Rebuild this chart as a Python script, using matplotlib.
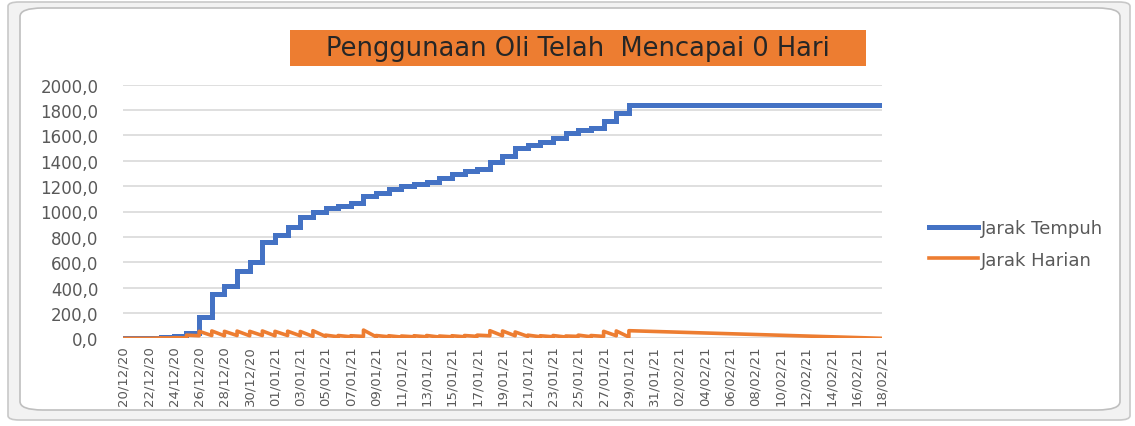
import matplotlib.pyplot as plt
import matplotlib.dates as mdates
from matplotlib.patches import FancyBboxPatch, Rectangle
import numpy as np
from datetime import date, timedelta

BIRU = "#4472C4"
ORANYE = "#ED7D31"
ABU = "#595959"

tanggal_awal = date(2020, 12, 20)
tanggal_akhir = date(2021, 2, 18)

# jarak tempuh kumulatif per hari, mulai 20/12/20 s/d 29/01/21
jarak_tempuh = [0, 0, 0, 10, 15, 45, 170, 353, 413, 528, 601, 763, 818, 876,
                954, 994, 1025, 1046, 1067, 1119, 1143, 1175, 1198, 1215, 1230,
                1263, 1294, 1320, 1339, 1391, 1438, 1504, 1525, 1548, 1582,
                1616, 1640, 1661, 1713, 1778, 1836]
jarak_tempuh_akhir = 1836

# jarak harian: catatan pertama & terakhir di tiap tanggal
harian_awal = [0, 0, 0, 2, 3, 3, 20, 22, 20, 22, 20, 22, 20, 22, 20, 15,
               15, 12, 12, 15, 12, 12, 10, 12, 12, 10, 12, 12, 15, 20, 20,
               20, 15, 12, 12, 10, 15, 12, 15, 20, 10]
harian_akhir = [0, 0, 0, 3, 5, 25, 55, 58, 55, 57, 55, 58, 55, 56, 54, 60,
                25, 22, 20, 65, 22, 20, 18, 20, 22, 18, 20, 22, 25, 60, 58,
                50, 25, 20, 22, 18, 25, 22, 55, 58, 60]
harian_akhir_tgl = 0

hari = [tanggal_awal + timedelta(days=i) for i in range(len(jarak_tempuh))]
label_tgl = [tanggal_awal + timedelta(days=i) for i in range(0, 61, 2)]

fig = plt.figure(figsize=(11.35, 4.27), dpi=100)
W, H = 1135, 427

# bingkai chart excel
fig.patches.append(FancyBboxPatch((8 / W, 6 / H), 1122 / W, 418 / H,
                                  boxstyle="round,pad=0,rounding_size=0.01",
                                  transform=fig.transFigure, facecolor="#F2F2F2",
                                  edgecolor="#C8C8C8", lw=1.2, zorder=-3))
fig.patches.append(FancyBboxPatch((20 / W, 16 / H), 1100 / W, 402 / H,
                                  boxstyle="round,pad=0,rounding_size=0.02",
                                  transform=fig.transFigure, facecolor="white",
                                  edgecolor="#BFBFBF", lw=1.2, zorder=-2))

ax = fig.add_axes([123.3 / W, 1 - 339.3 / H, (881.7 - 123.3) / W, (339.3 - 85.7) / H])
ax.set_facecolor("none")

# garis tempuh (bertingkat per hari)
x_biru = hari + [tanggal_akhir]
y_biru = jarak_tempuh + [jarak_tempuh_akhir]
ax.plot(x_biru, y_biru, drawstyle="steps-post", color=BIRU, lw=3.6,
        label="Jarak Tempuh", zorder=3, solid_joinstyle="miter")

# garis harian (beberapa catatan di tanggal yang sama)
x_oranye = list(np.repeat(np.array(hari, dtype="datetime64[D]"), 2)) + [np.datetime64(tanggal_akhir)]
y_oranye = list(np.ravel(np.column_stack([harian_awal, harian_akhir]))) + [harian_akhir_tgl]
ax.plot(x_oranye, y_oranye, color=ORANYE, lw=2.6, label="Jarak Harian", zorder=4)

ax.set_xlim(tanggal_awal, tanggal_akhir)
ax.set_ylim(0, 2000)
ax.set_yticks(np.arange(0, 2001, 200))
ax.yaxis.set_major_formatter(plt.FuncFormatter(lambda v, p: f"{v:.1f}".replace(".", ",")))
ax.set_xticks(label_tgl)
ax.xaxis.set_major_formatter(mdates.DateFormatter("%d/%m/%y"))
ax.tick_params(axis="x", rotation=90, labelsize=9.5, colors=ABU, length=0, pad=5)
ax.tick_params(axis="y", labelsize=12, colors=ABU, length=0, pad=18)
ax.grid(axis="y", color="#D9D9D9", lw=1.2)
for s in ax.spines.values():
    s.set_visible(False)

# judul dengan kotak oranye
fig.patches.append(Rectangle((290 / W, 1 - 67 / H), 576 / W, 36 / H,
                             transform=fig.transFigure, facecolor=ORANYE,
                             edgecolor="none"))
fig.text(578 / W, 1 - 49 / H, "Penggunaan Oli Telah  Mencapai 0 Hari",
         ha="center", va="center", fontsize=18.5, color="#262626")

fig.legend(loc="center left", bbox_to_anchor=(913 / W, 1 - 245 / H),
           frameon=False, fontsize=13, labelcolor=ABU, handlelength=2.7,
           handletextpad=0.15, labelspacing=0.75)

fig.savefig("out.png", dpi=100)
